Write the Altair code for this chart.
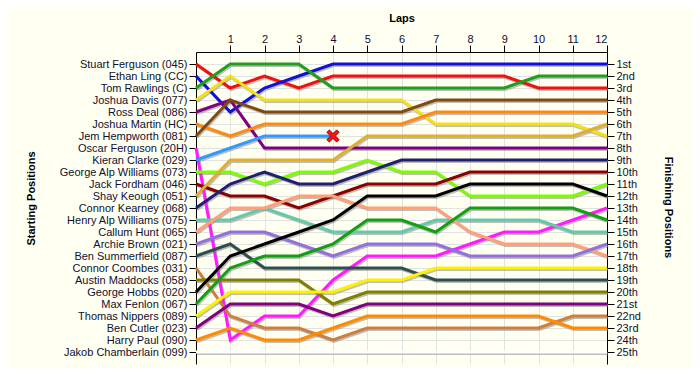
import altair as alt
import pandas as pd

# Starting order (positions 1..25)
drivers = [
    "Stuart Ferguson (045)", "Ethan Ling (CC)", "Tom Rawlings (C)", "Joshua Davis (077)",
    "Ross Deal (086)", "Joshua Martin (HC)", "Jem Hempworth (081)", "Oscar Ferguson (20H)",
    "Kieran Clarke (029)", "George Alp Williams (073)", "Jack Fordham (046)", "Shay Keough (051)",
    "Connor Kearney (068)", "Henry Alp Williams (075)", "Callum Hunt (065)", "Archie Brown (021)",
    "Ben Summerfield (087)", "Connor Coombes (031)", "Austin Maddocks (058)", "George Hobbs (020)",
    "Max Fenlon (067)", "Thomas Nippers (089)", "Ben Cutler (023)", "Harry Paul (090)",
    "Jakob Chamberlain (099)",
]

colors = [
    "#ee1111", "#1111dd", "#1f9f1f", "#f2e01a",
    "#800080", "#ff8a10", "#7f4a12", "#ff1aff",
    "#3399ff", "#7cfc00", "#8b0000", "#dfb030",
    "#20206e", "#66c8a8", "#ffa07a", "#9370db",
    "#2f4f4f", "#cd7f3f", "#808000", "#000000",
    "#139f13", "#fff000", "#800080", "#ff8c00",
    "#ffffff",
]

# Positions per lap (lap 0 .. lap 12)
positions = [
    [1, 3, 2, 3, 2, 2, 2, 2, 2, 2, 3, 3, 3],
    [2, 5, 3, 2, 1, 1, 1, 1, 1, 1, 1, 1, 1],
    [3, 1, 1, 1, 3, 3, 3, 3, 3, 3, 2, 2, 2],
    [4, 2, 4, 4, 4, 4, 4, 6, 6, 6, 6, 6, 7],
    [5, 4, 8, 8, 8, 8, 8, 8, 8, 8, 8, 8, 8],
    [6, 7, 6, 6, 6, 6, 6, 5, 5, 5, 5, 5, 5],
    [7, 4, 5, 5, 5, 5, 5, 4, 4, 4, 4, 4, 4],
    [8, 24, 22, 22, 19, 17, 17, 17, 16, 15, 15, 14, 13],
    [9, 8, 7, 7, 7],
    [10, 10, 11, 10, 10, 9, 10, 10, 12, 12, 12, 12, 11],
    [11, 12, 12, 13, 12, 11, 11, 11, 10, 10, 10, 10, 10],
    [12, 9, 9, 9, 9, 7, 7, 7, 7, 7, 7, 7, 6],
    [13, 11, 10, 11, 11, 10, 9, 9, 9, 9, 9, 9, 9],
    [14, 14, 13, 14, 15, 15, 15, 14, 14, 14, 14, 15, 15],
    [15, 13, 13, 12, 12, 13, 13, 13, 15, 16, 16, 16, 17],
    [16, 15, 15, 16, 17, 16, 16, 16, 17, 17, 17, 17, 16],
    [17, 16, 18, 18, 18, 18, 18, 19, 19, 19, 19, 19, 19],
    [18, 22, 23, 23, 24, 23, 23, 23, 23, 23, 23, 22, 22],
    [19, 19, 19, 19, 21, 20, 20, 20, 20, 20, 20, 20, 20],
    [20, 17, 16, 15, 14, 12, 12, 12, 11, 11, 11, 11, 12],
    [21, 18, 17, 17, 16, 14, 14, 15, 13, 13, 13, 13, 14],
    [22, 20, 20, 20, 20, 19, 19, 18, 18, 18, 18, 18, 18],
    [23, 21, 21, 21, 22, 21, 21, 21, 21, 21, 21, 21, 21],
    [24, 23, 24, 24, 23, 22, 22, 22, 22, 22, 22, 23, 23],
    [25, 25, 25, 25, 25, 25, 25, 25, 25, 25, 25, 25, 25],
]

retired = ["Kieran Clarke (029)"]

finish_labels = [
    "1st", "2nd", "3rd", "4th", "5th", "6th", "7th", "8th", "9th", "10th",
    "11th", "12th", "13th", "14th", "15th", "16th", "17th", "18th", "19th", "20th",
    "21st", "22nd", "23rd", "24th", "25th",
]

laps = list(range(0, 13))

rows = []
for i, (name, pos) in enumerate(zip(drivers, positions)):
    for lap, p in zip(laps, pos):
        rows.append({"driver": name, "idx": i, "lap": lap, "pos": p})
df = pd.DataFrame(rows)

ret_rows = []
for name in retired:
    i = drivers.index(name)
    ret_rows.append({"driver": name, "lap": len(positions[i]) - 1, "pos": positions[i][-1]})
df_ret = pd.DataFrame(ret_rows)

FONT = "Liberation Sans"
TXT = "#101030"

def js_list(items):
    return "[" + ",".join("'" + s + "'" for s in items) + "]"

x_enc = alt.X(
    "lap:Q",
    scale=alt.Scale(domain=[0, 12], nice=False, zero=False),
    axis=alt.Axis(
        orient="top", values=list(range(1, 13)), title="Laps", grid=True,
        gridColor="#e2e2e2", domainColor="#000000", tickColor="#000000",
        tickSize=7, labelPadding=1, labelFont=FONT, labelFontSize=11, labelColor=TXT,
        titleFont=FONT, titleFontSize=11, titleFontWeight="bold", titleColor="#000000",
        titlePadding=10,
    ),
)

y_scale = alt.Scale(domain=[0, 26], nice=False, zero=False, reverse=True)

y_left = alt.Y(
    "pos:Q", scale=y_scale,
    axis=alt.Axis(
        orient="left", values=list(range(1, 26)), title="Starting Positions",
        labelExpr=js_list(drivers) + "[datum.value-1]",
        grid=True, gridColor="#e2e2e2", domainColor="#000000", tickColor="#000000",
        tickSize=7, labelPadding=2, labelFont=FONT, labelFontSize=11, labelColor=TXT,
        titleFont=FONT, titleFontSize=11, titleFontWeight="bold", titleColor="#000000",
        titleX=-160, titleY=146,
    ),
)

y_right = alt.Y(
    "pos:Q", scale=y_scale,
    axis=alt.Axis(
        orient="right", values=list(range(1, 26)), title="Finishing Positions",
        labelExpr=js_list(finish_labels) + "[datum.value-1]",
        grid=False, domainColor="#000000", tickColor="#000000",
        tickSize=7, labelPadding=2, labelFont=FONT, labelFontSize=11, labelColor=TXT,
        titleFont=FONT, titleFontSize=11, titleFontWeight="bold", titleColor="#000000",
        titleX=55, titleY=155,
    ),
)

color_enc = alt.Color("driver:N", scale=alt.Scale(domain=drivers, range=colors), legend=None)

shadow = alt.Chart(df).mark_line(
    strokeWidth=3, color="#8a8a8a", opacity=0.55, xOffset=1, yOffset=1.5
).encode(x=x_enc, y=y_left, detail="driver:N", order="lap:Q")

lines = alt.Chart(df).mark_line(strokeWidth=3).encode(
    x=x_enc, y=y_right, color=color_enc, order="lap:Q"
)

xshape = "M-1,-0.6L-0.6,-1L0,-0.4L0.6,-1L1,-0.6L0.4,0L1,0.6L0.6,1L0,0.4L-0.6,1L-1,0.6L-0.4,0Z"
marker = alt.Chart(df_ret).mark_point(
    shape=xshape, filled=True, fill="#ff1010", stroke="#801010", strokeWidth=1,
    size=150, opacity=1,
).encode(x=x_enc, y=alt.Y("pos:Q", scale=y_scale, axis=None))

chart = (
    alt.layer(shadow, lines, marker)
    .resolve_axis(y="independent")
    .properties(
        width=411, height=312,
        autosize=alt.AutoSizeParams(type="none"),
        padding={"left": 188, "top": 44, "right": 85, "bottom": 3},
        background="#fffff2",
    )
    .configure_view(stroke=None, fill="#fffff2")
)

chart.save("out.html", embed_options={"renderer": "svg", "actions": False})
